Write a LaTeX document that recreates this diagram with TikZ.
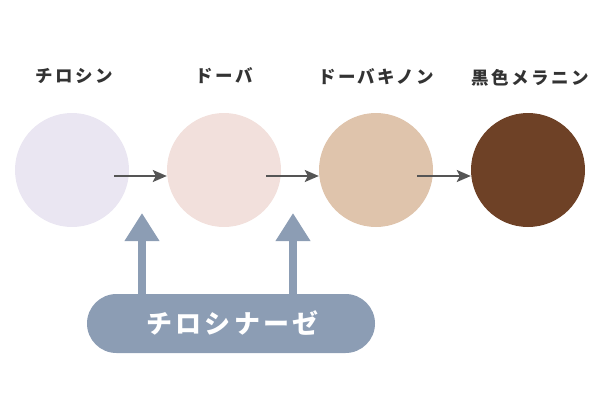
\documentclass[tikz,border=0pt]{standalone}
\usepackage{fontspec}
\setmainfont{Noto Sans CJK JP}
\usetikzlibrary{arrows.meta}
\definecolor{cA}{HTML}{EAE6F2}
\definecolor{cB}{HTML}{F2E0DC}
\definecolor{cC}{HTML}{DFC4AC}
\definecolor{cD}{HTML}{6E4126}
\definecolor{enz}{HTML}{8C9DB4}
\definecolor{txt}{HTML}{333333}
\definecolor{arr}{HTML}{555555}
\begin{document}
\begin{tikzpicture}[x=1pt,y=-1pt,
  blob/.style={circle,minimum size=114pt,inner sep=0pt},
  lbl/.style={font=\bfseries\fontsize{17.5pt}{20pt}\selectfont\addfontfeatures{LetterSpace=14},text=txt,inner sep=0pt},
  conn/.style={draw=arr,line width=2pt,-{Stealth[length=14pt,width=12pt,inset=3pt]}},
  upar/.style={draw=enz,line width=8pt,-{Triangle[length=28pt,width=33pt]}},
  enzbox/.style={fill=enz,minimum width=288pt,minimum height=59pt,rounded corners=29.5pt,inner sep=0pt,text=white,font=\bfseries\fontsize{26pt}{30pt}\selectfont\addfontfeatures{LetterSpace=12}}]
\useasboundingbox (0,0) rectangle (600,400);
\node[blob,fill=cA] (c1) at (72,170) {};
\node[blob,fill=cB] (c2) at (224,170) {};
\node[blob,fill=cC] (c3) at (376,170) {};
\node[blob,fill=cD] (c4) at (528,170) {};
\node[lbl] (l1) at (74,76) {チロシン};
\node[lbl] (l2) at (224,76) {ドーバ};
\node[lbl] (l3) at (376,77) {ドーバキノン};
\node[lbl] (l4) at (530,78) {黒色メラニン};
\draw[conn] ([xshift=42pt,yshift=-6pt]c1.center) -- ([yshift=-6pt]c2.west);
\draw[conn] ([xshift=42pt,yshift=-6pt]c2.center) -- ([yshift=-6pt]c3.west);
\draw[conn] ([xshift=41pt,yshift=-6pt]c3.center) -- ([yshift=-6pt]c4.west);
\node[enzbox] (e) at (231,323.5) {\hspace{3pt}チロシナーゼ};
\coordinate (t1) at (142,213);
\coordinate (t2) at (293,213);
\draw[upar] ([xshift=-89pt,yshift=-13pt]e.north) -- (t1);
\draw[upar] ([xshift=62pt,yshift=-13pt]e.north) -- (t2);
\end{tikzpicture}
\end{document}
